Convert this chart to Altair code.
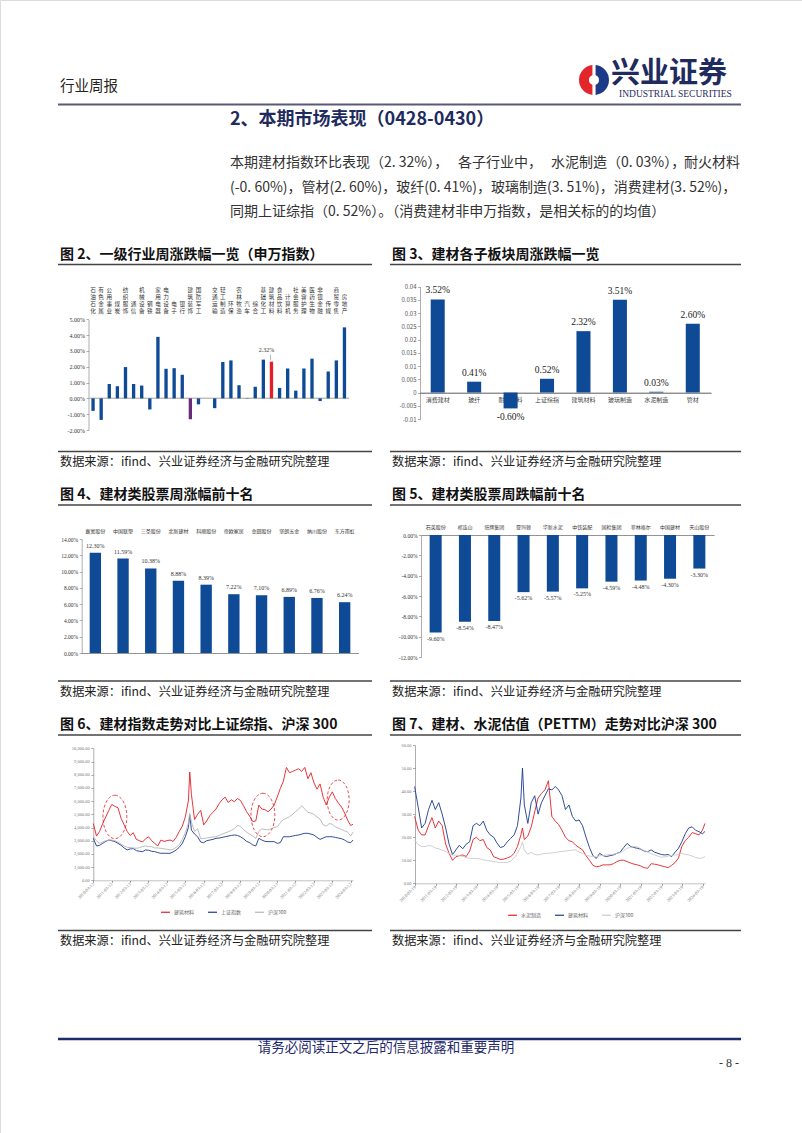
import altair as alt
import pandas as pd

W, H = 802, 1133
CJK = "Noto Sans CJK SC"
SERIF = "Liberation Serif"
BAR_BLUE = "#0f4a97"
RED = "#e41f26"
PURPLE = "#6c2a7c"
NAVY = "#1f2b5e"
LINE_NAVY = "#1b3a8c"
GRAY6 = "#b4b4b4"
GRAY7 = "#cacaca"
MINUS = "\u2212"

# ---------------------------------------------------------------- texts
HEADER_LEFT = "行业周报"
LOGO_CN = "兴业证券"
LOGO_EN = "INDUSTRIAL SECURITIES"
SECTION_TITLE = "2、本期市场表现（0428-0430）"
PARA_1 = ["本期建材指数环比表现（2. 32%），", "各子行业中，", "水泥制造（0. 03%），", "耐火材料"]
PARA_2 = "(-0. 60%)，管材(2. 60%)，玻纤(0. 41%)，玻璃制造(3. 51%)，消费建材(3. 52%)，"
PARA_3 = "同期上证综指（0. 52%）。（消费建材非申万指数，是相关标的的均值）"
TITLES = [
    "图 2、一级行业周涨跌幅一览（申万指数）",
    "图 3、建材各子板块周涨跌幅一览",
    "图 4、建材类股票周涨幅前十名",
    "图 5、建材类股票周跌幅前十名",
    "图 6、建材指数走势对比上证综指、沪深 300",
    "图 7、建材、水泥估值（PETTM）走势对比沪深 300",
]
SOURCE = "数据来源：ifind、兴业证券经济与金融研究院整理"
FOOTER = "请务必阅读正文之后的信息披露和重要声明"
PAGE_NO = "- 8 -"

# ---------------------------------------------------------------- fig 2
IND_CATS = ["石油石化", "有色金属", "公用事业", "煤炭", "纺织服饰", "通信", "机械设备", "钢铁",
            "家用电器", "电力设备", "电子", "银行", "建筑装饰", "国防军工", " ", "交通运输",
            "轻工制造", "环保", "农林牧渔", "汽车", "综合", "基础化工", "建筑材料", "食品饮料",
            "计算机", "社会服务", "美容护理", "医药生物", "非银金融", "传媒", "商贸零售", "房地产"]
IND_VALS = [-0.79, -1.36, 0.91, 0.77, 1.98, 0.91, 0.81, -0.70,
            3.89, 1.87, 1.91, 1.49, -1.32, -0.38, None, -0.62,
            2.30, 2.40, 0.83, 0.02, 0.74, 2.45, 2.32, 0.66,
            1.89, 0.49, 1.89, 2.51, -0.17, 1.70, 2.40, 4.49]
Y2_TICKS = [-2, -1, 0, 1, 2, 3, 4, 5]

# ---------------------------------------------------------------- fig 3
SUB_CATS = ["消费建材", "玻纤", "耐火材料", "上证综指", "建筑材料", "玻璃制造", "水泥制造", "管材"]
SUB_VALS = [0.0352, 0.0041, -0.0060, 0.0052, 0.0232, 0.0351, 0.0003, 0.0260]
Y3_TICKS = [-0.01, -0.005, 0, 0.005, 0.01, 0.015, 0.02, 0.025, 0.03, 0.035, 0.04]

# ---------------------------------------------------------------- fig 4 / 5
TOP_NAMES = ["嘉寓股份", "中国联塑", "三圣股份", "北新建材", "科顺股份",
             "帝欧家居", "金圆股份", "坚朗五金", "纳川股份", "东方雨虹"]
TOP_VALS = [12.30, 11.59, 10.38, 8.88, 8.39, 7.22, 7.10, 6.89, 6.76, 6.24]
Y4_TICKS = [0, 2, 4, 6, 8, 10, 12, 14]

BOT_NAMES = ["石英股份", "祁连山", "塔牌集团", "亚玛顿", "华新水泥",
             "中铁装配", "国检集团", "菲林格尔", "中国建材", "天山股份"]
BOT_VALS = [-9.60, -8.54, -8.47, -5.62, -5.57, -5.25, -4.59, -4.48, -4.30, -3.30]
Y5_TICKS = [-12, -10, -8, -6, -4, -2, 0]

# ---------------------------------------------------------------- fig 6 / 7 (time series)
DATES = [
    "2010-03-12", "2010-05-15", "2010-07-15", "2010-09-15", "2010-11-15",
    "2011-01-15", "2011-03-15", "2011-05-15", "2011-07-15", "2011-09-15", "2011-11-15",
    "2012-01-15", "2012-03-15", "2012-05-15", "2012-07-15", "2012-09-15", "2012-11-15",
    "2013-01-15", "2013-03-15", "2013-05-15", "2013-07-15", "2013-09-15", "2013-11-15",
    "2014-01-15", "2014-03-15", "2014-05-15", "2014-07-15", "2014-09-15", "2014-11-15",
    "2015-01-15", "2015-03-15", "2015-05-15", "2015-06-12", "2015-07-15", "2015-09-15", "2015-11-15",
    "2016-01-15", "2016-03-15", "2016-05-15", "2016-07-15", "2016-09-15", "2016-11-15",
    "2017-01-15", "2017-03-15", "2017-05-15", "2017-07-15", "2017-09-15", "2017-11-15",
    "2018-01-15", "2018-03-15", "2018-05-15", "2018-07-15", "2018-09-15", "2018-11-15",
    "2019-01-15", "2019-03-15", "2019-05-15", "2019-07-15", "2019-09-15", "2019-11-15",
    "2020-01-15", "2020-03-15", "2020-05-15", "2020-07-15", "2020-09-15", "2020-11-15",
    "2021-01-15", "2021-03-15", "2021-05-15", "2021-07-15", "2021-09-15", "2021-11-15",
    "2022-01-15", "2022-03-15", "2022-05-15", "2022-07-15", "2022-09-15", "2022-11-15",
    "2023-01-15", "2023-03-15", "2023-05-15", "2023-07-15", "2023-09-15", "2023-11-15",
    "2024-01-15", "2024-03-15", "2024-04-30",
]

F6_NAMES = ["建筑材料", "上证指数", "沪深300"]
F6_RED = [
    4300, 3350, 3700, 4300, 4800,
    5300, 5750, 5600, 5500, 4700, 4200,
    3700, 3400, 3600, 3100, 3000, 2900,
    3150, 3300, 3000, 2800, 2600, 3050,
    2950, 3000, 3050, 2950, 3250, 3700,
    4100, 4800, 6000, 8200, 6500, 4600, 5000,
    5300, 4200, 4500, 4900, 5150, 5400,
    5800, 6100, 6300, 5900, 6100, 5950,
    6200, 6050, 5650, 5200, 4850, 4450,
    4500, 5700, 5400, 5350, 5200, 5400,
    5700, 6300, 6950, 7500, 8550, 8150,
    8250, 8350, 8450, 8250, 8550, 7700,
    8150, 7400, 6900, 7300, 6300, 5700,
    6300, 6700, 6200, 5850, 5550, 5100,
    4550, 4150, 4250,
]
F6_BLUE = [
    3180, 2600, 2650, 2800, 2950,
    3050, 3000, 2930, 2800, 2650, 2450,
    2300, 2380, 2400, 2250, 2200, 2170,
    2300, 2280, 2200, 2170, 2100, 2045,
    2050, 2045, 2045, 2150, 2300, 2500,
    2800, 3300, 4000, 4950, 3800, 3500, 3300,
    2900, 2850, 3000, 3050, 3100, 3180,
    3200, 3250, 3300, 3350, 3400, 3430,
    3400, 3300, 3150, 2950, 2850, 2680,
    2600, 3180, 3050, 2950, 2930, 2930,
    2930, 2800, 2850, 3300, 3300, 3300,
    3350, 3400, 3430, 3500, 3560, 3560,
    3500, 3430, 3250, 3100, 3200, 3300,
    3300, 3300, 3250, 3200, 3150, 3050,
    2900, 2850, 3050,
]
F6_GRAY = [
    3300, 3000, 2800, 2900, 3000,
    3050, 3050, 3000, 2900, 2750, 2600,
    2500, 2480, 2450, 2420, 2480, 2550,
    2600, 2550, 2550, 2450, 2450, 2420,
    2380, 2350, 2300, 2350, 2500, 2700,
    3100, 3600, 4300, 5075, 4400, 3700, 3900,
    3150, 3180, 3200, 3250, 3280, 3300,
    3400, 3500, 3580, 3680, 3780, 3900,
    4150, 4100, 3850, 3650, 3500, 3350,
    3180, 3700, 3900, 3850, 3820, 3900,
    4000, 4050, 4350, 4600, 4700, 4820,
    5000, 5200, 5400, 5650, 5400, 5150,
    5100, 5000, 4800, 4650, 4200, 4100,
    4300, 4250, 4050, 3950, 3850, 3750,
    3650, 3350, 3650,
]
Y6_TICKS = [0, 1000, 2000, 3000, 4000, 5000, 6000, 7000, 8000, 9000, 10000]
TICK_YEARS = [2010, 2011, 2012, 2013, 2014, 2015, 2016, 2017, 2018, 2019, 2020, 2021, 2022, 2023, 2024]
ELL_DATES = ["2011-05-15", "2019-06-05", "2023-07-10"]
ELL_VALS = [4800, 4950, 6080]
ELL_SIZES = [1884, 1884, 1600]

F7_NAMES = ["水泥制造", "建筑材料", "沪深300"]
F7_RED = [
    29, 23, 21, 21, 25,
    28.5, 24, 27, 25, 17, 13,
    10, 11.5, 12, 12.3, 11.6, 14,
    19, 20, 18.5, 19, 15.5, 14.5,
    11.5, 11, 10.3, 10.5, 11, 11.6,
    13, 16, 21, 24, 19, 20.5, 24.5,
    31, 37, 39, 40.5, 44.5, 29,
    27, 25.5, 23, 20, 18.5, 18,
    16.5, 15.5, 14.5, 12, 10, 7.8,
    7.2, 7.4, 8, 8, 8, 8.5,
    9.4, 10, 10, 9.4, 8.8, 8.3,
    8, 7.5, 6.8, 6.5, 8.5, 8.3,
    8, 7.6, 7.2, 6.8, 7.8, 9,
    11, 16, 18.5, 20, 22, 21.5,
    21, 23, 26,
]
F7_BLUE = [
    42, 33, 24, 26, 32,
    36, 32, 35, 30, 24, 17,
    12.5, 14.5, 16.5, 15, 17, 18,
    25, 26, 25, 27, 23, 21,
    20, 17.5, 15.5, 16, 18, 19.5,
    21, 25, 37, 50, 34, 26, 35,
    38, 30, 35, 38, 41, 40.5,
    42, 40.5, 38, 32, 34, 29,
    27, 27.5, 25, 20, 15.5, 12,
    10.8, 13, 12, 11.6, 12, 12.3,
    13, 13.5, 15.5, 17.3, 16, 15.5,
    15.2, 14.8, 14, 13.7, 14.5, 13.5,
    13, 12.5, 12.3, 12.5, 11.6, 13.5,
    15.2, 18, 21.5, 24, 24.5, 23,
    22.4, 21.5, 22.5,
]
F7_GRAY = [
    18.8, 16.8, 16, 15.9, 16.4,
    16.2, 15.3, 15, 14.3, 13.8, 13,
    12.3, 12.2, 12, 11.6, 11.2, 10.8,
    10.8, 10.7, 10.6, 10.2, 9.9, 9.7,
    9.4, 9.2, 9.0, 9.0, 9.0, 9.6,
    11, 13, 16, 18, 14.5, 12.5, 13.5,
    12.5, 12.3, 12.6, 13, 13, 13.2,
    13.3, 13.6, 13.8, 14, 14.2, 14.4,
    14.5, 13.6, 13, 12.2, 11.8, 11.6,
    11.5, 11.9, 12.1, 12.3, 12.4, 12.6,
    13, 13.3, 14, 15.2, 15.6, 15.9,
    15.8, 15, 14.2, 13.7, 12.8, 12.3,
    11.8, 11.3, 11.5, 11.8, 12.1, 12.3,
    12.5, 13, 12.6, 12.3, 11.8, 11.2,
    10.8, 11, 11.6,
]
Y7_TICKS = [0, 10, 20, 30, 40, 50, 60]

ELLIPSE = "M0,-1A0.55,1,0,1,1,0,1A0.55,1,0,1,1,0,-1Z"
PCT_EXPR = "replace(format(datum.value, '.2f'), '" + MINUS + "', '-') + '%'"

ONE = pd.DataFrame({"k": [0]})


# ---------------------------------------------------------------- helpers
def txt(s, x, y, size, color="#222", font=CJK, weight="normal", align="left", baseline="middle"):
    return alt.Chart(pd.DataFrame({"t": [s]})).mark_text(
        font=font, fontSize=size, fontWeight=weight, color=color, align=align, baseline=baseline
    ).encode(x=alt.value(x), y=alt.value(y), text="t:N")


def hline(x1, x2, y, color, w):
    return alt.Chart(ONE).mark_rule(color=color, strokeWidth=w).encode(
        x=alt.value(x1), x2=alt.value(x2), y=alt.value(y))


def yaxis(xpx, values, expr, size=6, font=SERIF, color="#333"):
    return alt.Axis(orient="left", offset=-xpx, values=values, labelExpr=expr, labelFont=font,
                    labelFontSize=size, labelColor=color, tickSize=2.5, tickColor="#777",
                    tickWidth=0.6, domainColor="#777", domainWidth=0.6, title=None, grid=False,
                    labelPadding=1.5, labelFlush=False, labelOverlap=False, zindex=0)


def line_axis(ypx, orient="bottom", color="#888"):
    off = ypx - H if orient == "bottom" else -ypx
    return alt.Axis(orient=orient, offset=off, labels=False, ticks=False, domainColor=color,
                    domainWidth=0.8, title=None, grid=False, zindex=0)


def time_axis(ypx, vals):
    return alt.Axis(orient="bottom", offset=ypx - H, values=vals, format="%Y-%m-%d",
                    formatType="time", labelAngle=-45, labelAlign="right", labelBaseline="middle",
                    labelFontSize=4.5, labelFont=SERIF, labelColor="#777", tickSize=2,
                    tickColor="#999", domainColor="#999", domainWidth=0.6, labelPadding=1,
                    title=None, grid=False, labelFlush=False, labelOverlap=False, zindex=0)


layers = []

# ---------------------------------------------------------------- fig 2
df2 = pd.DataFrame({"cat": IND_CATS, "val": IND_VALS})
df2["col"] = [RED if c == "建筑材料" else PURPLE if c == "建筑装饰" else BAR_BLUE for c in IND_CATS]
df2["txt"] = [("%.2f%%" % v) if v is not None else "" for v in IND_VALS]
chars = []
for c in IND_CATS:
    s = c.strip()
    for i, ch in enumerate(s):
        chars.append({"cat": c, "ch": ch, "row": 4 - len(s) + i})
dfl2 = pd.DataFrame(chars)


def xs2():
    return alt.Scale(domain=IND_CATS, range=[89, 348.5], paddingInner=0.59, paddingOuter=0.295)


def ys2():
    return alt.Scale(domain=[-2, 5], range=[430, 319.3], nice=False, zero=False)


layers.append(alt.Chart(df2.dropna(subset=["val"])).mark_bar().encode(
    x=alt.X("cat:N", scale=xs2(), axis=line_axis(397.7)),
    y=alt.Y("val:Q", scale=ys2(), axis=yaxis(88.5, Y2_TICKS, PCT_EXPR)),
    color=alt.Color("col:N", scale=None)))
layers.append(alt.Chart(dfl2).mark_text(font=CJK, fontSize=5.6, color="#333").encode(
    x=alt.X("cat:N", scale=xs2(), axis=None),
    y=alt.Y("row:O", scale=alt.Scale(type="point", domain=[0, 1, 2, 3], range=[289.5, 310.5], padding=0),
            axis=None),
    text="ch:N"))
sel2 = df2[df2["cat"] == "建筑材料"]
layers.append(alt.Chart(sel2).mark_text(font=SERIF, fontSize=6, dx=-5, dy=-12, color="#333").encode(
    x=alt.X("cat:N", scale=xs2(), axis=None), y=alt.Y("val:Q", scale=ys2(), axis=None), text="txt:N"))
layers.append(alt.Chart(sel2).mark_rule(color="#777", strokeWidth=0.5, xOffset=-1, yOffset=-1.5,
                                        y2Offset=-7).encode(
    x=alt.X("cat:N", scale=xs2(), axis=None), y=alt.Y("val:Q", scale=ys2(), axis=None), y2="val:Q"))

# ---------------------------------------------------------------- fig 3
df3 = pd.DataFrame({"cat": SUB_CATS, "val": SUB_VALS})
df3["txt"] = ["%.2f%%" % (v * 100) for v in SUB_VALS]


def xs3():
    return alt.Scale(domain=SUB_CATS, range=[419.5, 711], paddingInner=0.615, paddingOuter=0.3075)


def ys3():
    return alt.Scale(domain=[-0.01, 0.04], range=[419, 286.7], nice=False, zero=False)


layers.append(alt.Chart(df3).mark_bar(color=BAR_BLUE).encode(
    x=alt.X("cat:N", scale=xs3(), axis=alt.Axis(
        orient="bottom", offset=392.7 - H, labelFont=CJK, labelFontSize=6, labelColor="#444",
        labelPadding=4, ticks=False, domainColor="#333", domainWidth=0.8, title=None,
        grid=False, zindex=0, labelAngle=0)),
    y=alt.Y("val:Q", scale=ys3(), axis=yaxis(
        420, Y3_TICKS, "replace(format(datum.value, '~g'), '" + MINUS + "', '-')",
        size=6, font=CJK, color="#555"))))
layers.append(alt.Chart(df3[df3["val"] >= 0]).mark_text(font=SERIF, fontSize=9.5, dy=-9, color="#222").encode(
    x=alt.X("cat:N", scale=xs3(), axis=None), y=alt.Y("val:Q", scale=ys3(), axis=None), text="txt:N"))
layers.append(alt.Chart(df3[df3["val"] < 0]).mark_text(font=SERIF, fontSize=9.5, dy=9, color="#222").encode(
    x=alt.X("cat:N", scale=xs3(), axis=None), y=alt.Y("val:Q", scale=ys3(), axis=None), text="txt:N"))

# ---------------------------------------------------------------- fig 4
df4 = pd.DataFrame({"name": TOP_NAMES, "val": TOP_VALS})
df4["txt"] = ["%.2f%%" % v for v in TOP_VALS]


def xs4():
    return alt.Scale(domain=TOP_NAMES, range=[81.5, 358.5], paddingInner=0.59, paddingOuter=0.295)


def ys4():
    return alt.Scale(domain=[0, 14], range=[653, 539], nice=False, zero=False)


layers.append(alt.Chart(df4).mark_bar(color=BAR_BLUE).encode(
    x=alt.X("name:N", scale=xs4(), axis=line_axis(653, color="#777")),
    y=alt.Y("val:Q", scale=ys4(), axis=yaxis(81.7, Y4_TICKS, PCT_EXPR, size=5.5))))
layers.append(alt.Chart(df4).mark_text(font=CJK, fontSize=5, color="#333").encode(
    x=alt.X("name:N", scale=xs4(), axis=None), y=alt.value(531), text="name:N"))
layers.append(alt.Chart(df4).mark_text(font=SERIF, fontSize=6, dy=-7, color="#333").encode(
    x=alt.X("name:N", scale=xs4(), axis=None), y=alt.Y("val:Q", scale=ys4(), axis=None), text="txt:N"))

# ---------------------------------------------------------------- fig 5
df5 = pd.DataFrame({"name": BOT_NAMES, "val": BOT_VALS})
df5["txt"] = ["%.2f%%" % v for v in BOT_VALS]


def xs5():
    return alt.Scale(domain=BOT_NAMES, range=[421, 714], paddingInner=0.59, paddingOuter=0.295)


def ys5():
    return alt.Scale(domain=[-12, 0], range=[657, 535], nice=False, zero=False)


layers.append(alt.Chart(df5).mark_bar(color=BAR_BLUE).encode(
    x=alt.X("name:N", scale=xs5(), axis=line_axis(535, orient="top", color="#777")),
    y=alt.Y("val:Q", scale=ys5(), axis=yaxis(421, Y5_TICKS, PCT_EXPR, size=5.5))))
layers.append(alt.Chart(df5).mark_text(font=CJK, fontSize=5, color="#333").encode(
    x=alt.X("name:N", scale=xs5(), axis=None), y=alt.value(526.7), text="name:N"))
layers.append(alt.Chart(df5).mark_text(font=SERIF, fontSize=6, dy=6, color="#333").encode(
    x=alt.X("name:N", scale=xs5(), axis=None), y=alt.Y("val:Q", scale=ys5(), axis=None), text="txt:N"))

# ---------------------------------------------------------------- fig 6
n = len(DATES)
df6 = pd.DataFrame({
    "date": DATES * 3,
    "val": F6_RED + F6_BLUE + F6_GRAY,
    "s": [F6_NAMES[0]] * n + [F6_NAMES[1]] * n + [F6_NAMES[2]] * n,
})


def xs6():
    return alt.Scale(domain=[alt.DateTime(year=2010, month=3, date=12),
                             alt.DateTime(year=2024, month=4, date=30)], range=[93.3, 353])


def ys6():
    return alt.Scale(domain=[0, 10000], range=[880.3, 748.3], nice=False, zero=False)


def legend(x, y):
    return alt.Legend(orient="none", legendX=x, legendY=y, direction="horizontal",
                      title=None, symbolType="stroke", symbolSize=80,
                      symbolStrokeWidth=1.2, labelFont=CJK, labelFontSize=5,
                      labelColor="#666", columnPadding=10, labelOffset=3, padding=0)


layers.append(alt.Chart(df6).mark_line(strokeWidth=0.9).encode(
    x=alt.X("date:T", scale=xs6(), axis=time_axis(880.3, [alt.DateTime(year=y, month=3, date=12) for y in TICK_YEARS])),
    y=alt.Y("val:Q", scale=ys6(), axis=yaxis(93.3, Y6_TICKS, "format(datum.value, ',.2f')", size=4.5, color="#777")),
    color=alt.Color("s:N", scale=alt.Scale(domain=F6_NAMES, range=[RED, LINE_NAVY, GRAY6]),
                    legend=legend(160, 906.5))))
dfe = pd.DataFrame({"date": ELL_DATES, "val": ELL_VALS, "sz": ELL_SIZES})
layers.append(alt.Chart(dfe).mark_point(shape=ELLIPSE, filled=False, strokeDash=[3, 2], color=RED,
                                        strokeWidth=0.8, opacity=1).encode(
    x=alt.X("date:T", scale=xs6(), axis=None), y=alt.Y("val:Q", scale=ys6(), axis=None),
    size=alt.Size("sz:Q", scale=None)))

# ---------------------------------------------------------------- fig 7
df7 = pd.DataFrame({
    "date": DATES * 3,
    "val": F7_RED + F7_BLUE + F7_GRAY,
    "s": [F7_NAMES[0]] * n + [F7_NAMES[1]] * n + [F7_NAMES[2]] * n,
})
xs7 = alt.Scale(domain=[alt.DateTime(year=2010, month=3, date=19),
                        alt.DateTime(year=2024, month=4, date=30)], range=[415, 705])
ys7 = alt.Scale(domain=[0, 60], range=[883.3, 745], nice=False, zero=False)
layers.append(alt.Chart(df7).mark_line(strokeWidth=0.9).encode(
    x=alt.X("date:T", scale=xs7, axis=time_axis(883.3, [alt.DateTime(year=y, month=3, date=19) for y in TICK_YEARS])),
    y=alt.Y("val:Q", scale=ys7, axis=yaxis(415, Y7_TICKS, "format(datum.value, '.2f')", size=4.5, color="#777")),
    color=alt.Color("s:N", scale=alt.Scale(domain=F7_NAMES, range=[RED, LINE_NAVY, GRAY7]),
                    legend=legend(507, 909.5))))

# ---------------------------------------------------------------- page decoration
dlogo = pd.DataFrame({"part": ["a", "b"], "v": [1, 1], "c": ["#1d3a8a", "#e3262c"]})
logo = alt.Chart(dlogo).mark_arc(innerRadius=5, outerRadius=15, padAngle=0.2).encode(
    theta=alt.Theta("v:Q", stack=True), color=alt.Color("c:N", scale=None),
    order=alt.Order("part:N"), x=alt.value(594), y=alt.value(80))

LX, RX = 60, 392
TS = 14
deco = [
    txt(HEADER_LEFT, 60, 87, 14.5, "#222"),
    logo,
    txt(LOGO_CN, 611, 73.5, 29, NAVY, weight="bold"),
    txt(LOGO_EN, 619, 94, 9.5, NAVY, font=SERIF),
    hline(58, 741, 104.5, "#5a5a78", 2),
    txt(SECTION_TITLE, 230, 120, 18, NAVY, weight="bold"),
    txt(PARA_1[0], 230, 163, 14, "#333"),
    txt(PARA_1[1], 458, 163, 14, "#333"),
    txt(PARA_1[2], 551, 163, 14, "#333"),
    txt(PARA_1[3], 740, 163, 14, "#333", align="right"),
    txt(PARA_2, 230, 188, 14, "#333"),
    txt(PARA_3, 230, 212, 14, "#333"),
    # figure titles and rules
    txt(TITLES[0], LX, 255, TS, "#111", weight="bold"),
    txt(TITLES[1], RX, 255, TS, "#111", weight="bold"),
    hline(58, 372, 264.5, "#444", 1.5), hline(390, 741, 264.5, "#444", 1.5),
    hline(58, 372, 451.5, "#444", 1.5), hline(390, 741, 451.5, "#444", 1.5),
    txt(SOURCE, LX, 462, 12.2, "#222"), txt(SOURCE, RX, 462, 12.2, "#222"),
    txt(TITLES[2], LX, 495, TS, "#111", weight="bold"),
    txt(TITLES[3], RX, 495, TS, "#111", weight="bold"),
    hline(58, 372, 505, "#444", 1.5), hline(390, 741, 505, "#444", 1.5),
    hline(58, 372, 681, "#444", 1.5), hline(390, 741, 681, "#444", 1.5),
    txt(SOURCE, LX, 692, 12.2, "#222"), txt(SOURCE, RX, 692, 12.2, "#222"),
    txt(TITLES[4], LX, 725, TS, "#111", weight="bold"),
    txt(TITLES[5], RX, 725, TS, "#111", weight="bold"),
    hline(58, 372, 735, "#444", 1.5), hline(390, 741, 735, "#444", 1.5),
    hline(58, 372, 930.5, "#444", 1.5), hline(390, 741, 930.5, "#444", 1.5),
    txt(SOURCE, LX, 941, 12.2, "#222"), txt(SOURCE, RX, 941, 12.2, "#222"),
    # footer
    hline(58, 741, 1039, "#1f2a6b", 2.5),
    txt(FOOTER, 386, 1048, 13.5, "#1f2a6b", align="center"),
    txt(PAGE_NO, 739, 1063, 12, "#333", font=SERIF, align="right"),
]

chart = alt.layer(*deco, *layers).resolve_scale(
    x="independent", y="independent", color="independent"
).resolve_axis(x="independent", y="independent").resolve_legend(color="independent").properties(
    width=W, height=H, padding=0, autosize=alt.AutoSizeParams(type="none")
).configure_view(stroke="#777", strokeWidth=1).configure(background="white")

chart.save("out.html", embed_options={"renderer": "svg", "actions": False})
